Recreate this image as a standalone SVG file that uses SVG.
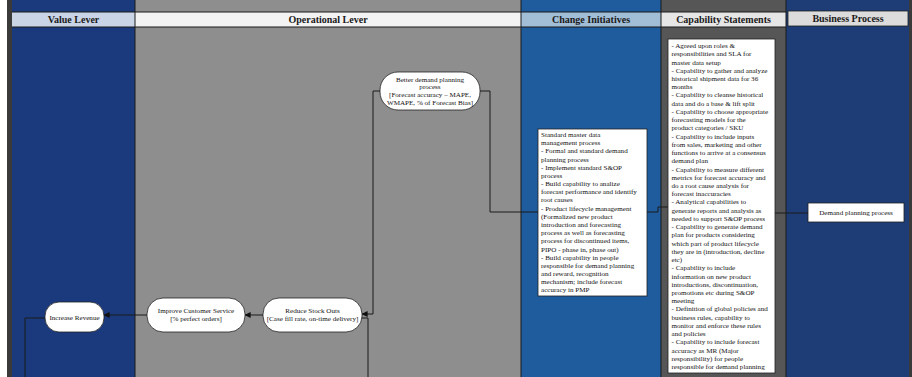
<svg xmlns="http://www.w3.org/2000/svg" width="912" height="377" viewBox="0 0 912 377">
  <style>
    .hdr { font-family: "Liberation Serif", "Times New Roman", serif; font-size: 10px; font-weight: bold; fill: #1a1a1a; text-anchor: middle; }
    .node { fill: #ffffff; stroke: #222222; stroke-width: 0.8; }
    .lbl { font-family: "Liberation Serif", "Times New Roman", serif; font-size: 7.1px; fill: #111111; text-anchor: middle; }
    .list { font-family: "Liberation Serif", "Times New Roman", serif; font-size: 7.1px; fill: #111111; }
    .wire { fill: none; stroke: #1a1a1a; stroke-width: 1; }
    .divider { stroke: #1a1a1a; stroke-width: 1; }
  </style>
  <defs>
    <marker id="arrow" viewBox="0 0 8 8" refX="7.5" refY="4" markerWidth="6" markerHeight="6" orient="auto" markerUnits="userSpaceOnUse">
      <path d="M0,0 L8,4 L0,8 Z" fill="#111111"/>
    </marker>
  </defs>

  <!-- column backgrounds -->
  <g id="columns">
    <rect x="0" y="0" width="912" height="377" fill="#ffffff"/>
    <rect x="7" y="0" width="5" height="377" fill="#3a3a3a"/>
    <rect x="12" y="0" width="123" height="377" fill="#1b3a7d"/>
    <rect x="135" y="0" width="386" height="377" fill="#8e8e8e"/>
    <rect x="521" y="0" width="140" height="377" fill="#1f5c9e"/>
    <rect x="661" y="0" width="125" height="377" fill="#565656"/>
    <rect x="786" y="0" width="123" height="377" fill="#1e3d76"/>
    <rect x="909" y="0" width="3" height="377" fill="#3a3a3a"/>
  </g>

  <!-- header row -->
  <g id="headers">
    <rect x="12" y="12" width="123" height="15" fill="#c9d5e7"/>
    <rect x="135" y="12" width="386" height="15" fill="#f3f3f3"/>
    <rect x="521" y="12" width="140" height="15" fill="#a2bdd6"/>
    <rect x="661" y="12" width="125" height="15" fill="#e6e6e6"/>
    <rect x="788" y="11" width="120" height="15" fill="#dcdcdc" stroke="#222222" stroke-width="0.8"/>
    <line class="divider" x1="12" y1="12" x2="786" y2="12"/>
    <line class="divider" x1="12" y1="27" x2="786" y2="27"/>
    <text class="hdr" x="73.5" y="23">Value Lever</text>
    <text class="hdr" x="328" y="23">Operational Lever</text>
    <text class="hdr" x="591" y="23">Change Initiatives</text>
    <text class="hdr" x="723.5" y="23">Capability Statements</text>
    <text class="hdr" x="848" y="22">Business Process</text>
  </g>

  <!-- column dividers -->
  <g id="dividers">
    <line class="divider" x1="135" y1="0" x2="135" y2="377"/>
    <line class="divider" x1="521" y1="0" x2="521" y2="377"/>
    <line class="divider" x1="661" y1="0" x2="661" y2="377"/>
    <line class="divider" x1="786" y1="0" x2="786" y2="377"/>
  </g>

  <!-- connectors -->
  <g id="connectors">
    <path class="wire" d="M479,91 H490 V212 H538"/>
    <path class="wire" d="M381,91 H373 V314 H362" marker-end="url(#arrow)"/>
    <path class="wire" d="M263,315 H245" marker-end="url(#arrow)"/>
    <path class="wire" d="M147,315 H104" marker-end="url(#arrow)"/>
    <path class="wire" d="M45,318 H25 V377"/>
    <path class="wire" d="M362,318 H368 V377"/>
    <path class="wire" d="M647,212 H658 V207 H668"/>
    <path class="wire" d="M775,213 H808"/>
  </g>

  <!-- operational lever: better demand planning -->
  <g id="better-demand-planning">
    <rect class="node" x="380" y="72" width="100" height="38" rx="18" ry="18"/>
    <text class="lbl" x="430" y="81.5">Better demand planning</text>
    <text class="lbl" x="430" y="89.2">process</text>
    <text class="lbl" x="430" y="96.9">[Forecast accuracy – MAPE,</text>
    <text class="lbl" x="430" y="104.6">WMAPE, % of Forecast Bias]</text>
  </g>

  <!-- operational lever: reduce stock outs -->
  <g id="reduce-stock-outs">
    <rect class="node" x="263" y="298" width="99" height="34" rx="16" ry="16"/>
    <text class="lbl" x="312.5" y="313">Reduce Stock Outs</text>
    <text class="lbl" x="312.5" y="321">[Case fill rate, on-time delivery]</text>
  </g>

  <!-- operational lever: improve customer service -->
  <g id="improve-customer-service">
    <rect class="node" x="147" y="298" width="98" height="34" rx="16" ry="16"/>
    <text class="lbl" x="196" y="313">Improve Customer Service</text>
    <text class="lbl" x="196" y="321">[% perfect orders]</text>
  </g>

  <!-- value lever: increase revenue -->
  <g id="increase-revenue">
    <rect class="node" x="45" y="302" width="59" height="30" rx="14" ry="14"/>
    <text class="lbl" x="74.5" y="319.5">Increase Revenue</text>
  </g>

  <!-- change initiatives -->
  <g id="change-initiatives">
    <rect class="node" x="538" y="129" width="109" height="167"/>
    <text class="list" x="541" y="137"> Standard master data</text>
    <text class="list" x="541" y="145.2">management process</text>
    <text class="list" x="541" y="153.4">- Formal and standard demand</text>
    <text class="list" x="541" y="161.5">planning process</text>
    <text class="list" x="541" y="169.7">- Implement standard S&amp;OP</text>
    <text class="list" x="541" y="177.9">process</text>
    <text class="list" x="541" y="186.1">- Build capability to analize</text>
    <text class="list" x="541" y="194.2">forecast performance and identify</text>
    <text class="list" x="541" y="202.4">root causes</text>
    <text class="list" x="541" y="210.6">- Product lifecycle management</text>
    <text class="list" x="541" y="218.8">(Formalized new product</text>
    <text class="list" x="541" y="226.9">introduction and forecasting</text>
    <text class="list" x="541" y="235.1">process as well as forecasting</text>
    <text class="list" x="541" y="243.3">process for discontinued items,</text>
    <text class="list" x="541" y="251.5">PIPO - phase in, phase out)</text>
    <text class="list" x="541" y="259.6">- Build capability in people</text>
    <text class="list" x="541" y="267.8">responsible for demand planning</text>
    <text class="list" x="541" y="276">and reward, recognition</text>
    <text class="list" x="541" y="284.2">mechanism; include forecast</text>
    <text class="list" x="541" y="292.3">accuracy in PMP</text>
  </g>

  <!-- capability statements -->
  <g id="capability-statements">
    <rect class="node" x="668" y="39" width="107" height="334"/>
    <text class="list" x="671.5" y="48">- Agreed upon roles &amp;</text>
    <text class="list" x="671.5" y="56.2">responsibilities and SLA for</text>
    <text class="list" x="671.5" y="64.5">master data setup</text>
    <text class="list" x="671.5" y="72.7">- Capability to gather and analyze</text>
    <text class="list" x="671.5" y="80.9">historical shipment data for 36</text>
    <text class="list" x="671.5" y="89.1">months</text>
    <text class="list" x="671.5" y="97.4">- Capability to cleanse historical</text>
    <text class="list" x="671.5" y="105.6">data and do a base &amp; lift split</text>
    <text class="list" x="671.5" y="113.8">- Capability to choose appropriate</text>
    <text class="list" x="671.5" y="122.1">forecasting models for the</text>
    <text class="list" x="671.5" y="130.3">product categories / SKU</text>
    <text class="list" x="671.5" y="138.5">- Capability to include inputs</text>
    <text class="list" x="671.5" y="146.8">from sales, marketing and other</text>
    <text class="list" x="671.5" y="155">functions to arrive at a consensus</text>
    <text class="list" x="671.5" y="163.2">demand plan</text>
    <text class="list" x="671.5" y="171.5">- Capability to measure different</text>
    <text class="list" x="671.5" y="179.7">metrics for forecast accuracy and</text>
    <text class="list" x="671.5" y="187.9">do a root cause analysis for</text>
    <text class="list" x="671.5" y="196.2">forecast inaccuracies</text>
    <text class="list" x="671.5" y="204.4">- Analytical capabilities to</text>
    <text class="list" x="671.5" y="212.6">generate reports and analysis as</text>
    <text class="list" x="671.5" y="220.8">needed to support S&amp;OP process</text>
    <text class="list" x="671.5" y="229.1">- Capability to generate demand</text>
    <text class="list" x="671.5" y="237.3">plan for products considering</text>
    <text class="list" x="671.5" y="245.5">which part of product lifecycle</text>
    <text class="list" x="671.5" y="253.8">they are in (introduction, decline</text>
    <text class="list" x="671.5" y="262">etc)</text>
    <text class="list" x="671.5" y="270.2">- Capability to include</text>
    <text class="list" x="671.5" y="278.5">information on new product</text>
    <text class="list" x="671.5" y="286.7">introductions, discontinuation,</text>
    <text class="list" x="671.5" y="294.9">promotions etc during S&amp;OP</text>
    <text class="list" x="671.5" y="303.2">meeting</text>
    <text class="list" x="671.5" y="311.4">- Definition of global policies and</text>
    <text class="list" x="671.5" y="319.6">business rules, capability to</text>
    <text class="list" x="671.5" y="327.9">monitor and enforce these rules</text>
    <text class="list" x="671.5" y="336.1">and policies</text>
    <text class="list" x="671.5" y="344.3">- Capability to include forecast</text>
    <text class="list" x="671.5" y="352.5">accuracy  as MR (Major</text>
    <text class="list" x="671.5" y="360.8">responsibility) for people</text>
    <text class="list" x="671.5" y="369">responsible for demand planning</text>
  </g>

  <!-- business process -->
  <g id="demand-planning-process">
    <rect class="node" x="808" y="203" width="96" height="19"/>
    <text class="lbl" x="856" y="215">Demand planning process</text>
  </g>
</svg>
